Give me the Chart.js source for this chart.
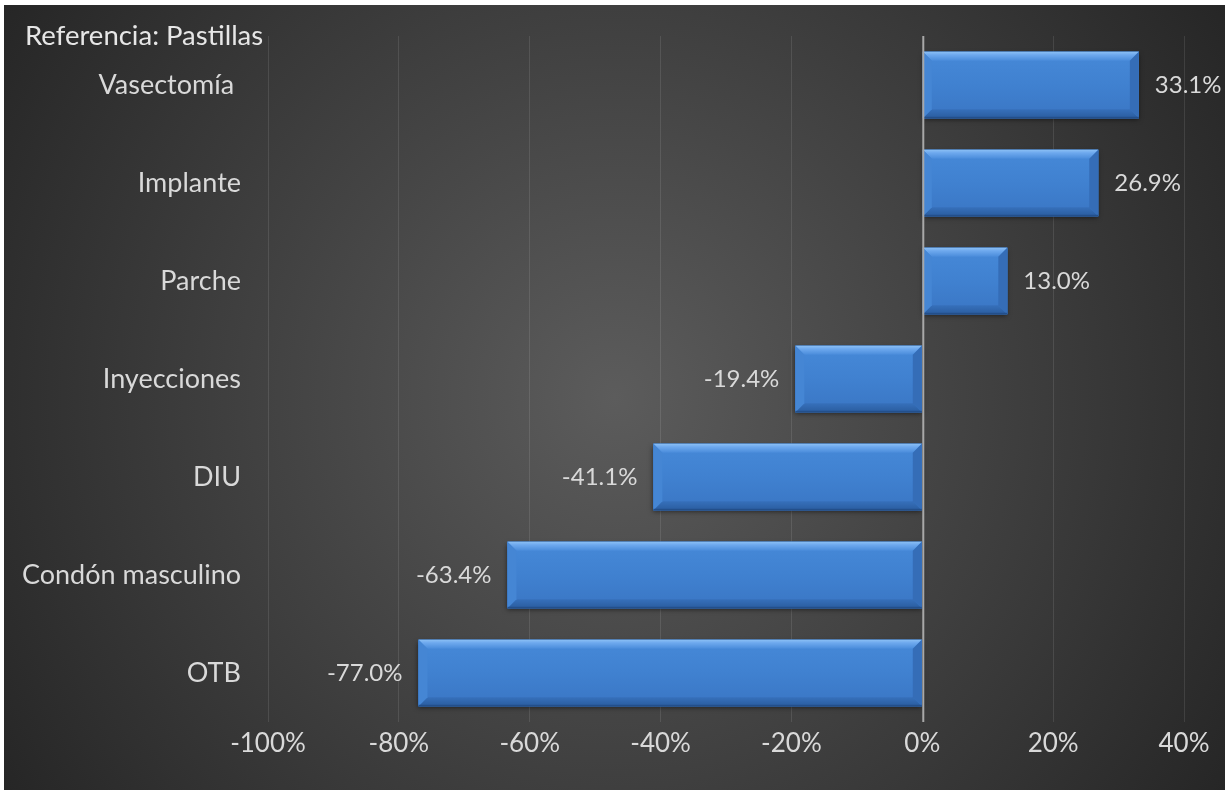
<!DOCTYPE html>
<html>
<head>
<meta charset="utf-8">
<script src="https://cdn.jsdelivr.net/npm/chart.js@4/dist/chart.umd.min.js"></script>
<style>
  html, body { margin: 0; padding: 0; background: #ffffff; }
  #wrap {
    position: absolute; left: 4px; top: 5px; width: 1221px; height: 785px;
    background: radial-gradient(circle farthest-corner at 50% 50%, #5c5c5c 0%, #262626 100%);
  }
</style>
</head>
<body>
<div id="wrap"><canvas id="c"></canvas></div>
<script>
// Cambio porcentual respecto a las pastillas, por método anticonceptivo
const categories = ['Vasectomía ', 'Implante', 'Parche', 'Inyecciones', 'DIU', 'Condón masculino', 'OTB'];
const changeVsPill = [33.1, 26.9, 13.0, -19.4, -41.1, -63.4, -77.0];
const xTickValues = [-100, -80, -60, -40, -20, 0, 20, 40];
const referenceLabel = 'Referencia: Pastillas';

const FONT = 'Lato';
const TEXT = '#d9d9d9';

// Texto "Referencia: ..." arriba a la izquierda
const referencePlugin = {
  id: 'referenceLabel',
  afterDraw(chart) {
    const ctx = chart.ctx;
    ctx.save();
    ctx.font = `27.5px ${FONT}`;
    ctx.fillStyle = '#e6e6e6';
    ctx.textAlign = 'left';
    ctx.textBaseline = 'alphabetic';
    ctx.fillText(referenceLabel, 21, 40);
    ctx.restore();
  }
};

// Barras con biselado (borde superior claro, inferior oscuro) y sombra
const bevelPlugin = {
  id: 'bevelBars',
  afterDatasetsDraw(chart) {
    const ctx = chart.ctx;
    const meta = chart.getDatasetMeta(0);
    meta.data.forEach((el) => {
      const p = el.getProps(['x', 'y', 'base', 'height'], true);
      const L = Math.min(p.x, p.base), R = Math.max(p.x, p.base);
      const T = p.y - p.height / 2, B = p.y + p.height / 2;
      const b = 9;
      ctx.save();
      // sombra
      ctx.shadowColor = 'rgba(0,0,0,0.55)';
      ctx.shadowBlur = 5;
      ctx.shadowOffsetY = 2;
      ctx.fillStyle = '#3a78c8';
      ctx.fillRect(L, T, R - L, B - T);
      ctx.restore();

      ctx.save();
      // cara
      const face = ctx.createLinearGradient(0, T, 0, B);
      face.addColorStop(0, '#4689d8');
      face.addColorStop(0.5, '#4081d0');
      face.addColorStop(1, '#3a76c4');
      ctx.fillStyle = face;
      ctx.fillRect(L, T, R - L, B - T);

      // bisel superior
      const top = ctx.createLinearGradient(0, T, 0, T + b);
      top.addColorStop(0, '#8cc0f5');
      top.addColorStop(0.35, '#6ea9ee');
      top.addColorStop(1, '#4a8cdb');
      ctx.fillStyle = top;
      ctx.beginPath();
      ctx.moveTo(L, T); ctx.lineTo(R, T); ctx.lineTo(R - b, T + b); ctx.lineTo(L + b, T + b);
      ctx.closePath(); ctx.fill();

      // bisel inferior
      const bot = ctx.createLinearGradient(0, B - b, 0, B);
      bot.addColorStop(0, '#3670bb');
      bot.addColorStop(1, '#2a5c9e');
      ctx.fillStyle = bot;
      ctx.beginPath();
      ctx.moveTo(L, B); ctx.lineTo(R, B); ctx.lineTo(R - b, B - b); ctx.lineTo(L + b, B - b);
      ctx.closePath(); ctx.fill();

      // bisel izquierdo
      ctx.fillStyle = '#4586d4';
      ctx.beginPath();
      ctx.moveTo(L, T); ctx.lineTo(L + b, T + b); ctx.lineTo(L + b, B - b); ctx.lineTo(L, B);
      ctx.closePath(); ctx.fill();

      // bisel derecho
      ctx.fillStyle = '#356db7';
      ctx.beginPath();
      ctx.moveTo(R, T); ctx.lineTo(R - b, T + b); ctx.lineTo(R - b, B - b); ctx.lineTo(R, B);
      ctx.closePath(); ctx.fill();

      // filo inferior
      ctx.fillStyle = '#234f8a';
      ctx.fillRect(L, B - 1.5, R - L, 1.5);
      ctx.restore();
    });

    // línea del cero, por encima de las barras
    const xs = chart.scales.x;
    const x0 = xs.getPixelForValue(0);
    ctx.save();
    ctx.strokeStyle = '#a8a8a8';
    ctx.lineWidth = 2;
    ctx.beginPath();
    ctx.moveTo(x0 + 1, chart.chartArea.top);
    ctx.lineTo(x0 + 1, chart.chartArea.bottom);
    ctx.stroke();
    ctx.restore();
  }
};

// Etiquetas de valor junto al extremo de cada barra
const valueLabelPlugin = {
  id: 'valueLabels',
  afterDatasetsDraw(chart) {
    const ctx = chart.ctx;
    const meta = chart.getDatasetMeta(0);
    ctx.save();
    ctx.font = `24px ${FONT}`;
    ctx.fillStyle = TEXT;
    ctx.textBaseline = 'middle';
    meta.data.forEach((el, i) => {
      const v = changeVsPill[i];
      const p = el.getProps(['x', 'y'], true);
      const gap = 16;
      if (v >= 0) {
        ctx.textAlign = 'left';
        ctx.fillText(v.toFixed(1) + '%', p.x + gap, p.y);
      } else {
        ctx.textAlign = 'right';
        ctx.fillText(v.toFixed(1) + '%', p.x - gap, p.y);
      }
    });
    ctx.restore();
  }
};

new Chart(document.getElementById('c'), {
  type: 'bar',
  data: {
    labels: categories,
    datasets: [{
      data: changeVsPill,
      backgroundColor: '#3a78c8',
      barPercentage: 0.68,
      categoryPercentage: 1.0
    }]
  },
  options: {
    indexAxis: 'y',
    responsive: true,
    maintainAspectRatio: false,
    animation: false,
    layout: { padding: { top: 31, right: 41, left: 0, bottom: 0 } },
    plugins: {
      legend: { display: false },
      tooltip: { enabled: false },
      title: { display: false }
    },
    scales: {
      x: {
        min: xTickValues[0],
        max: xTickValues[xTickValues.length - 1],
        afterBuildTicks(scale) {
          scale.ticks = xTickValues.map(v => ({ value: v }));
        },
        ticks: {
          callback: (v) => v + '%',
          color: TEXT,
          font: { family: FONT, size: 26 },
          padding: 6,
          maxRotation: 0
        },
        grid: {
          drawTicks: false,
          color: (c) => (c.tick && c.tick.value === 0) ? 'rgba(0,0,0,0)' : 'rgba(255,255,255,0.1)',
          lineWidth: 1
        },
        border: { display: false },
        afterFit(scale) { scale.height = 68; }
      },
      y: {
        ticks: {
          color: TEXT,
          font: { family: FONT, size: 27 },
          padding: 27
        },
        grid: { display: false, drawTicks: false },
        border: { display: false },
        afterFit(scale) {
          scale.width = 264;
          scale.paddingTop = 0;
          scale.paddingBottom = 0;
        }
      }
    }
  },
  plugins: [bevelPlugin, valueLabelPlugin, referencePlugin]
});
</script>
</body>
</html>
